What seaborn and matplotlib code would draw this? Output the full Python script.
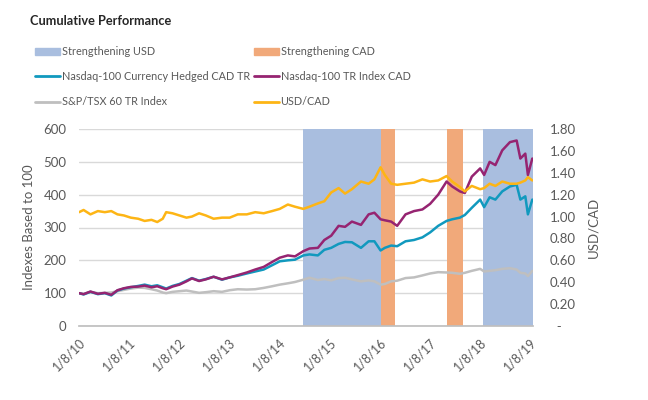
import numpy as np
import pandas as pd
import matplotlib
matplotlib.use("Agg")
import matplotlib.pyplot as plt
import matplotlib.dates as mdates
from matplotlib.patches import Patch
from matplotlib.lines import Line2D
import seaborn as sns

# data
dates = ["2010-01-08", "2010-02-10", "2010-04-01", "2010-05-25", "2010-07-15", "2010-08-31",
         "2010-10-15", "2010-12-01", "2011-01-20", "2011-03-15", "2011-05-01", "2011-06-20",
         "2011-08-01", "2011-09-10", "2011-10-05", "2011-11-20", "2012-01-10", "2012-03-01",
         "2012-04-10", "2012-06-01", "2012-07-20", "2012-09-15", "2012-11-15", "2013-01-10",
         "2013-03-10", "2013-05-15", "2013-07-15", "2013-09-15", "2013-11-15", "2014-01-10",
         "2014-03-10", "2014-05-01", "2014-07-01", "2014-08-15", "2014-10-15", "2014-12-01",
         "2015-01-20", "2015-03-15", "2015-05-01", "2015-06-20", "2015-08-25", "2015-10-20",
         "2015-12-01", "2016-01-15", "2016-02-15", "2016-04-01", "2016-05-15", "2016-07-15",
         "2016-09-15", "2016-11-15", "2017-01-10", "2017-03-10", "2017-05-10", "2017-06-20",
         "2017-08-15", "2017-09-20", "2017-11-10", "2018-01-10", "2018-02-08", "2018-03-20",
         "2018-05-01", "2018-06-20", "2018-08-15", "2018-10-03", "2018-10-30", "2018-12-05",
         "2018-12-24", "2019-01-25"]

hedged = [100, 96, 104, 97, 100, 93, 108, 114, 118, 122, 126, 121, 124, 118, 114, 122, 128, 138,
          146, 138, 143, 150, 141, 148, 153, 160, 166, 172, 185, 197, 200, 202, 215, 218, 215, 232,
          238, 250, 256, 255, 238, 258, 258, 230, 238, 245, 243, 258, 262, 270, 285, 305, 320, 325,
          330, 338, 360, 385, 362, 392, 385, 410, 425, 430, 385, 395, 340, 385]

tr_cad = [100, 97, 105, 98, 101, 95, 109, 115, 119, 120, 123, 118, 121, 115, 112, 120, 126, 136,
          145, 137, 142, 150, 142, 148, 155, 163, 172, 180, 195, 208, 215, 212, 228, 236, 238, 262,
          275, 305, 302, 318, 308, 340, 345, 325, 322, 318, 305, 340, 350, 355, 372, 400, 440, 425,
          410, 405, 455, 480, 460, 500, 490, 535, 560, 565, 510, 525, 460, 510]

tsx = [100, 98, 104, 100, 101, 102, 106, 110, 114, 117, 116, 112, 108, 102, 100, 104, 106, 108,
       105, 101, 103, 106, 104, 109, 112, 111, 112, 116, 121, 126, 130, 134, 141, 147, 140, 143,
       139, 146, 147, 142, 136, 139, 136, 126, 128, 136, 138, 146, 148, 154, 160, 164, 163, 162,
       159, 162, 168, 174, 166, 168, 170, 174, 176, 172, 162, 160, 152, 168]

usdcad = [1.04, 1.06, 1.02, 1.05, 1.04, 1.05, 1.02, 1.01, 0.99, 0.98, 0.96, 0.97, 0.95, 0.98,
          1.04, 1.03, 1.01, 0.99, 1.00, 1.03, 1.01, 0.98, 0.99, 0.99, 1.02, 1.02, 1.04, 1.03,
          1.05, 1.07, 1.11, 1.09, 1.07, 1.09, 1.12, 1.14, 1.22, 1.26, 1.21, 1.25, 1.32, 1.30,
          1.34, 1.45, 1.38, 1.30, 1.29, 1.30, 1.31, 1.34, 1.32, 1.33, 1.37, 1.32, 1.27, 1.23,
          1.28, 1.25, 1.26, 1.30, 1.28, 1.32, 1.30, 1.30, 1.31, 1.33, 1.36, 1.33]

usd_periods = [("2014-07-01", "2016-01-20"), ("2018-01-31", "2019-01-30")]
cad_periods = [("2016-01-20", "2016-05-01"), ("2017-05-15", "2017-09-05")]

tick_dates = ["2010-01-08", "2011-01-08", "2012-01-08", "2013-01-08", "2014-01-08",
              "2015-01-08", "2016-01-08", "2017-01-08", "2018-01-08", "2019-01-08"]

df = pd.DataFrame({"date": pd.to_datetime(dates), "hedged": hedged, "tr_cad": tr_cad,
                   "tsx": tsx, "usdcad": usdcad})

c_blue = "#A9BEDF"
c_orange = "#F1A97A"
c_teal = "#1199BE"
c_purple = "#962471"
c_gray = "#BFBFBF"
c_yellow = "#FDB515"
c_text = "#595959"

sns.set_theme(style="white")
plt.rcParams["font.family"] = ["Lato", "DejaVu Sans"]

fig = plt.figure(figsize=(6.48, 4.0), dpi=100)
ax = fig.add_axes([0.122, 0.185, 0.7005, 0.4925])
ax2 = ax.twinx()

for a, b in usd_periods:
    ax.axvspan(pd.Timestamp(a), pd.Timestamp(b), color=c_blue, lw=0, zorder=1)
for a, b in cad_periods:
    ax.axvspan(pd.Timestamp(a), pd.Timestamp(b), color=c_orange, lw=0, zorder=1)

sns.lineplot(data=df, x="date", y="tsx", ax=ax, color=c_gray, lw=1.8, zorder=3)
sns.lineplot(data=df, x="date", y="hedged", ax=ax, color=c_teal, lw=1.8, zorder=3)
sns.lineplot(data=df, x="date", y="tr_cad", ax=ax, color=c_purple, lw=1.8, zorder=3)
sns.lineplot(data=df, x="date", y="usdcad", ax=ax2, color=c_yellow, lw=1.8)

ax.set_xlim(pd.Timestamp("2010-01-08"), pd.Timestamp("2019-01-30"))
ax.set_ylim(0, 600)
ax2.set_ylim(0, 1.8)
ax.set_yticks(range(0, 601, 100))
ax2.set_yticks(np.arange(0, 1.81, 0.2))
ax2.set_yticklabels(["  -"] + [f"{v:.2f}" for v in np.arange(0.2, 1.81, 0.2)])

ax.grid(axis="y", color="#D9D9D9", lw=1)
ax.set_axisbelow(True)
ax2.grid(False)

ax.set_xticks(pd.to_datetime(tick_dates))
ax.xaxis.set_major_formatter(mdates.DateFormatter("%-m/%-d/%y"))
for lab in ax.get_xticklabels():
    lab.set_rotation(45)
    lab.set_ha("right")
    lab.set_rotation_mode("anchor")

for a in (ax, ax2):
    for s in a.spines.values():
        s.set_visible(False)
ax.spines["bottom"].set_visible(True)
ax.spines["bottom"].set_color(c_gray)

ax.tick_params(axis="x", colors=c_text, labelsize=9, length=4, color=c_gray, pad=3)
ax.tick_params(axis="y", colors=c_text, labelsize=9.5, length=0, pad=9)
ax2.tick_params(axis="y", colors=c_text, labelsize=9.5, length=0, pad=12)

ax.set_xlabel("")
ax.set_ylabel("Indexes Based to 100", color=c_text, fontsize=9.5, labelpad=6)
ax2.set_ylabel("USD/CAD", color=c_text, fontsize=9.5, labelpad=8)

fig.text(0.046, 0.948, "Cumulative Performance", fontsize=9.2, fontweight="bold",
         color="#262626", va="center")

handles = [
    Patch(color=c_blue, label="Strengthening USD"),
    Line2D([], [], color=c_teal, lw=2, label="Nasdaq-100 Currency Hedged CAD TR"),
    Line2D([], [], color=c_gray, lw=2, label="S&P/TSX 60 TR Index"),
    Patch(color=c_orange, label="Strengthening CAD"),
    Line2D([], [], color=c_purple, lw=2, label="Nasdaq-100 TR Index CAD"),
    Line2D([], [], color=c_yellow, lw=2, label="USD/CAD"),
]
leg = fig.legend(handles=handles, ncol=2, loc="upper left", bbox_to_anchor=(0.054, 0.885),
                 frameon=False, fontsize=7.8, handlelength=2.3, handleheight=0.6,
                 handletextpad=0.15, columnspacing=0.4, labelspacing=1.3, borderaxespad=0,
                 borderpad=0)
for t in leg.get_texts():
    t.set_color(c_text)

fig.savefig("out.png", dpi=100)
